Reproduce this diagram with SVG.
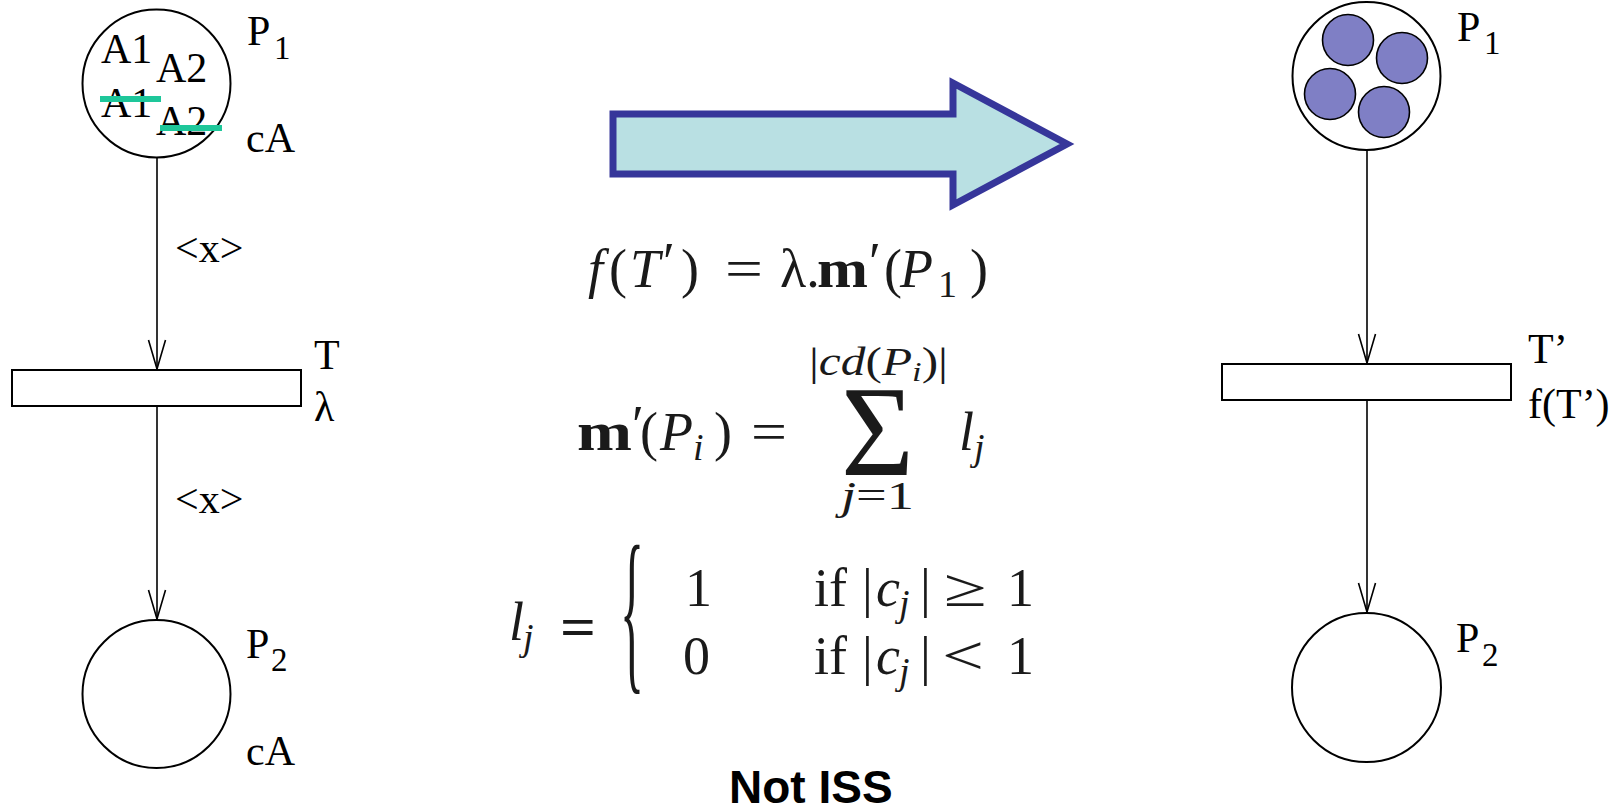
<svg xmlns="http://www.w3.org/2000/svg" width="1621" height="808" viewBox="0 0 1621 808">
<style>
.lbl{font-family:"Liberation Serif","Times New Roman",serif;font-size:42px;fill:#000}
.sub{font-size:33px}
.pl{fill:#fff;stroke:#000;stroke-width:2}
.tr{fill:#fff;stroke:#000;stroke-width:2}
.arc{stroke:#000;stroke-width:1.6;fill:none}
.tok{fill:#7f7fc5;stroke:#000;stroke-width:1.6}
.strike{fill:#1ec79a}
.math{font-family:"Liberation Serif","Times New Roman",serif;font-size:54px;fill:#1a1a1a}
.it{font-style:italic}
.bf{font-weight:bold}
.ms{font-size:38px}
.title{font-family:"Liberation Sans",Arial,sans-serif;font-weight:bold;font-size:46px;fill:#000}
</style>
<defs>
<marker id="vh" viewBox="-30 -10 32 20" refX="0" refY="0" markerWidth="32" markerHeight="20" markerUnits="userSpaceOnUse" orient="auto">
<path d="M-29,-8.5 L0,0 L-29,8.5" fill="none" stroke="#000" stroke-width="1.6"/>
</marker>
</defs>
<rect width="1621" height="808" fill="#fff"/>

<g id="connectors">
<line class="arc" x1="157" y1="157" x2="157" y2="369" marker-end="url(#vh)"/>
<line class="arc" x1="157" y1="406" x2="157" y2="619" marker-end="url(#vh)"/>
<line class="arc" x1="1367" y1="150" x2="1367" y2="363" marker-end="url(#vh)"/>
<line class="arc" x1="1367" y1="400" x2="1367" y2="612" marker-end="url(#vh)"/>
<text class="lbl" x="175" y="262">&lt;x&gt;</text>
<text class="lbl" x="175" y="513">&lt;x&gt;</text>
</g>

<g id="left-P1">
<circle class="pl" cx="156.5" cy="83.5" r="74"/>
<text class="lbl" x="101" y="63">A1</text>
<text class="lbl" x="156" y="82">A2</text>
<text class="lbl" x="101" y="117">A1</text>
<text class="lbl" x="156" y="135">A2</text>
<rect class="strike" x="100" y="96" width="61" height="6"/>
<rect class="strike" x="160" y="125" width="62" height="6"/>
<text class="lbl" x="247" y="45">P</text>
<text class="lbl sub" x="274" y="59">1</text>
<text class="lbl" x="246" y="152">cA</text>
</g>

<g id="left-T">
<rect class="tr" x="12" y="370" width="289" height="36"/>
<text class="lbl" x="314" y="369">T</text>
<text class="lbl" x="314" y="421">λ</text>
</g>

<g id="left-P2">
<circle class="pl" cx="156.5" cy="694" r="74"/>
<text class="lbl" x="246" y="658">P</text>
<text class="lbl sub" x="271" y="671">2</text>
<text class="lbl" x="246" y="765">cA</text>
</g>

<g id="big-arrow">
<polygon points="613,114 953,114 953,83 1067,144 953,205 953,174 613,174" fill="#b9e0e3" stroke="#36369a" stroke-width="7"/>
</g>

<g id="formula1" class="math">
<text x="588" y="287" class="it">f</text>
<text x="609" y="287">(</text>
<text x="630" y="287" class="it">T</text>
<text x="663" y="280">′</text>
<text x="681" y="287">)</text>
<text x="725" y="287" textLength="38" lengthAdjust="spacingAndGlyphs">=</text>
<text x="780" y="287">λ.</text>
<text x="817" y="287" class="bf" textLength="51" lengthAdjust="spacingAndGlyphs">m</text>
<text x="869" y="280">′</text>
<text x="884" y="287">(</text>
<text x="900" y="287" class="it">P</text>
<text x="938" y="297" class="ms">1</text>
<text x="970" y="287">)</text>
</g>

<g id="formula2" class="math">
<text x="577" y="450" class="bf" textLength="55" lengthAdjust="spacingAndGlyphs">m</text>
<text x="632" y="443">′</text>
<text x="640" y="450">(</text>
<text x="660" y="450" class="it">P</text>
<text x="693" y="460" class="ms it">i</text>
<text x="714" y="450">)</text>
<text x="751" y="450" textLength="36" lengthAdjust="spacingAndGlyphs">=</text>
<text x="841" y="475" font-size="130" textLength="73" lengthAdjust="spacingAndGlyphs">Σ</text>
<text x="809" y="375" font-size="40" textLength="139" lengthAdjust="spacingAndGlyphs">|<tspan class="it">cd</tspan>(<tspan class="it">P</tspan><tspan class="it" font-size="28" dy="6">i</tspan><tspan dy="-6">)|</tspan></text>
<text x="841" y="509" font-size="40" textLength="73" lengthAdjust="spacingAndGlyphs"><tspan class="it">j</tspan>=1</text>
<text x="959" y="450" class="it">l</text>
<text x="974" y="460" class="ms it">j</text>
</g>

<g id="formula3" class="math">
<text x="509" y="640" class="it">l</text>
<text x="523" y="650" class="ms it">j</text>
<text x="560" y="645" class="bf" textLength="36" lengthAdjust="spacingAndGlyphs">=</text>
<text transform="translate(620,670) scale(1,3.6)" x="0" y="0" font-size="50">{</text>
<text x="685" y="606">1</text>
<text x="683" y="674">0</text>
<text x="814" y="606">if</text>
<text x="862" y="606">|</text>
<text x="876" y="606" class="it">c</text>
<text x="899" y="616" class="ms it">j</text>
<text x="920" y="606">|</text>
<text x="944" y="606" textLength="43" lengthAdjust="spacingAndGlyphs">≥</text>
<text x="1007" y="606">1</text>
<text x="814" y="674">if</text>
<text x="862" y="674">|</text>
<text x="876" y="674" class="it">c</text>
<text x="899" y="684" class="ms it">j</text>
<text x="920" y="674">|</text>
<text x="942" y="674" textLength="42" lengthAdjust="spacingAndGlyphs">&lt;</text>
<text x="1007" y="674">1</text>
</g>

<g id="right-P1">
<circle class="pl" cx="1366.5" cy="76" r="74"/>
<circle class="tok" cx="1348" cy="40" r="25.5"/>
<circle class="tok" cx="1402" cy="58" r="25.5"/>
<circle class="tok" cx="1330" cy="94" r="25.5"/>
<circle class="tok" cx="1384" cy="112" r="25.5"/>
<text class="lbl" x="1457" y="41">P</text>
<text class="lbl sub" x="1484" y="54">1</text>
</g>

<g id="right-T">
<rect class="tr" x="1222" y="364" width="289" height="36"/>
<text class="lbl" x="1528" y="363">T’</text>
<text class="lbl" x="1528" y="418">f(T’)</text>
</g>

<g id="right-P2">
<circle class="pl" cx="1366.5" cy="687.5" r="74.5"/>
<text class="lbl" x="1456" y="652">P</text>
<text class="lbl sub" x="1482" y="666">2</text>
</g>

<text class="title" x="729" y="803">Not ISS</text>
</svg>
